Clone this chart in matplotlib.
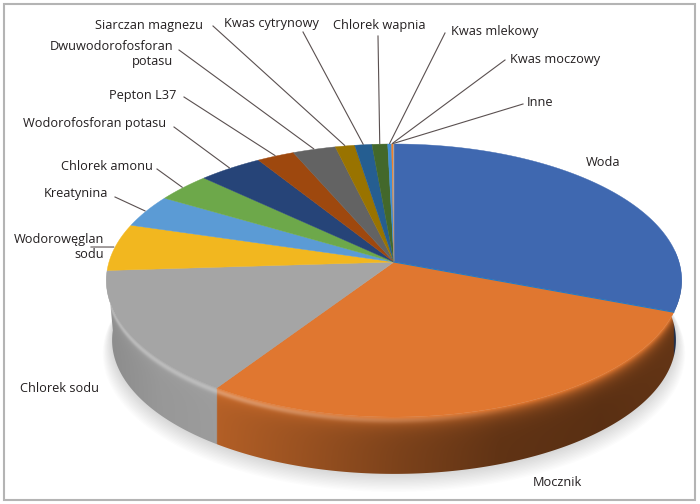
import numpy as np
import matplotlib
matplotlib.use('Agg')
import matplotlib.pyplot as plt
from matplotlib.colors import to_rgb
from matplotlib.patches import Polygon, Rectangle

plt.rcParams['font.family'] = ['Open Sans', 'DejaVu Sans']

names = ['Woda', 'Mocznik', 'Chlorek sodu', 'Wodorowęglan\nsodu', 'Kreatynina', 'Chlorek amonu',
         'Wodorofosforan potasu', 'Pepton L37', 'Dwuwodorofosforan\npotasu', 'Siarczan magnezu',
         'Kwas cytrynowy', 'Chlorek wapnia', 'Kwas mlekowy', 'Kwas moczowy', 'Inne']
values = [30.8, 28.5, 14.7, 5.6, 3.9, 3.5, 4.1, 2.4, 2.75, 1.25, 1.1, 1.0, 0.25, 0.1, 0.05]
colors = ['#3F68B0', '#E07730', '#A5A5A5', '#F2B71F', '#5B9BD5', '#6DA84A', '#264478', '#9E480E',
          '#636363', '#997300', '#255E91', '#43682B', '#3F8FD8', '#F07F2A', '#A5A5A5']

# label position, alignment, start of the leader line
label_pos = {
    'Woda': (603, 162, 'center', None),
    'Mocznik': (557, 483, 'center', None),
    'Chlorek sodu': (60, 388, 'center', None),
    'Wodorowęglan\nsodu': (104, 247, 'right', (91, 247)),
    'Kreatynina': (108, 193, 'right', (115, 197)),
    'Chlorek amonu': (153, 167, 'right', (157, 169)),
    'Wodorofosforan potasu': (166, 123, 'right', (174, 127)),
    'Pepton L37': (176, 96, 'right', (184, 97)),
    'Dwuwodorofosforan\npotasu': (173, 54, 'right', (179, 50)),
    'Siarczan magnezu': (203, 25, 'right', (213, 26)),
    'Kwas cytrynowy': (271, 23, 'center', (303, 32)),
    'Chlorek wapnia': (379, 25, 'center', (378, 36)),
    'Kwas mlekowy': (495, 31, 'center', (445, 33)),
    'Kwas moczowy': (555, 60, 'center', (505, 60)),
    'Inne': (540, 103, 'center', (523, 104)),
}

cx, cy = 394, 262
a, b, k = 285, 134, 0.1355
depth = 60


def project(deg, scale=1.0, dy=0.0):
    t = np.radians(deg)
    x, y = np.sin(t), np.cos(t)
    d = 1 + k * y
    return cx + scale * a * x / d, cy - scale * b * y / d + dy


fig = plt.figure(figsize=(7, 5.04), dpi=100)
ax = fig.add_axes([0, 0, 1, 1])
ax.set_xlim(0, 700)
ax.set_ylim(504, 0)
ax.axis('off')

edges = np.cumsum([0] + values) * 3.6 * 100 / sum(values)
left_end = edges[3]

# soft shadow
sh = np.linspace(70, 285, 200)
for i in range(14):
    sx, sy = project(sh, 0.98 + i * 0.0025, depth + i * 1.0)
    ax.add_patch(Polygon(np.c_[sx, sy], closed=True, fc='black', ec='none', alpha=0.012, zorder=1))

# side wall, painted as one image and clipped to the wall outline
arc = np.linspace(85, left_end, 400)
rim_x, rim_y = project(arc)
low_x, low_y = project(arc[::-1], 0.98, depth)
order = np.argsort(rim_x)
px, py = np.meshgrid(np.arange(0, 700, 0.5), np.arange(0, 504, 0.5))
pdeg = np.interp(px, rim_x[order], arc[order])
pdy = py - np.interp(px, rim_x[order], rim_y[order])
idx = np.clip(np.searchsorted(edges, pdeg, side='right') - 1, 0, len(values) - 1)
base = np.array([to_rgb(c) for c in colors])[idx]
shade = np.interp(px, [110, 160, 223, 300, 400, 500, 600, 690], [0.82, 0.9, 0.79, 0.69, 0.55, 0.43, 0.4, 0.45])
shade = np.where(idx == 2, np.interp(px, [110, 160, 223], [0.85, 0.92, 0.95]), shade)
wall = base * shade[..., None]
fade = np.exp(-np.clip(pdy, 0, None) / 7.0)[..., None]
wall = wall * (1 - fade) + base * fade
glow = (np.exp(-((pdy - 3) / 3.0) ** 2) * np.interp(px, [110, 223, 420, 520], [0.3, 0.28, 0.12, 0]))[..., None]
wall = wall * (1 - glow) + glow
img = ax.imshow(wall, extent=(0, 700, 504, 0), interpolation='bilinear', zorder=2, aspect='auto')
outline = Polygon(np.c_[np.r_[rim_x, low_x], np.r_[rim_y, low_y]], closed=True, transform=ax.transData,
                  fc='none', ec='none')
ax.add_patch(outline)
img.set_clip_path(outline)
ax.set_xlim(0, 700)
ax.set_ylim(504, 0)

# top face
for i, v in enumerate(values):
    ts = np.linspace(edges[i], edges[i + 1], max(3, int(v * 4)))
    x, y = project(ts)
    ax.add_patch(Polygon(np.c_[np.r_[cx, x], np.r_[cy, y]], closed=True, fc=colors[i], ec=colors[i], lw=0.3, zorder=4))

# thin bright edge of the first slice
ex, ey = project(edges[1])
ax.plot([cx, ex], [cy, ey], color='#2079C8', lw=0.8, zorder=4.5)

# labels and leader lines
for i, name in enumerate(names):
    tx, ty, ha, start = label_pos[name]
    ax.text(tx, ty, name, ha=ha, va='center', fontsize=9.2, color='#231f20', linespacing=1.2, zorder=6)
    if start is not None:
        ex, ey = project((edges[i] + edges[i + 1]) / 2, 1.005)
        ax.plot([start[0], ex], [start[1], ey], color='#5a5050', lw=0.8, zorder=5)

# frame
ax.add_patch(Rectangle((4, 4), 691, 496, fc='none', ec='#b4b4b4', lw=1.5, zorder=7))

fig.savefig('out.png', dpi=100, facecolor='white')
plt.close(fig)
